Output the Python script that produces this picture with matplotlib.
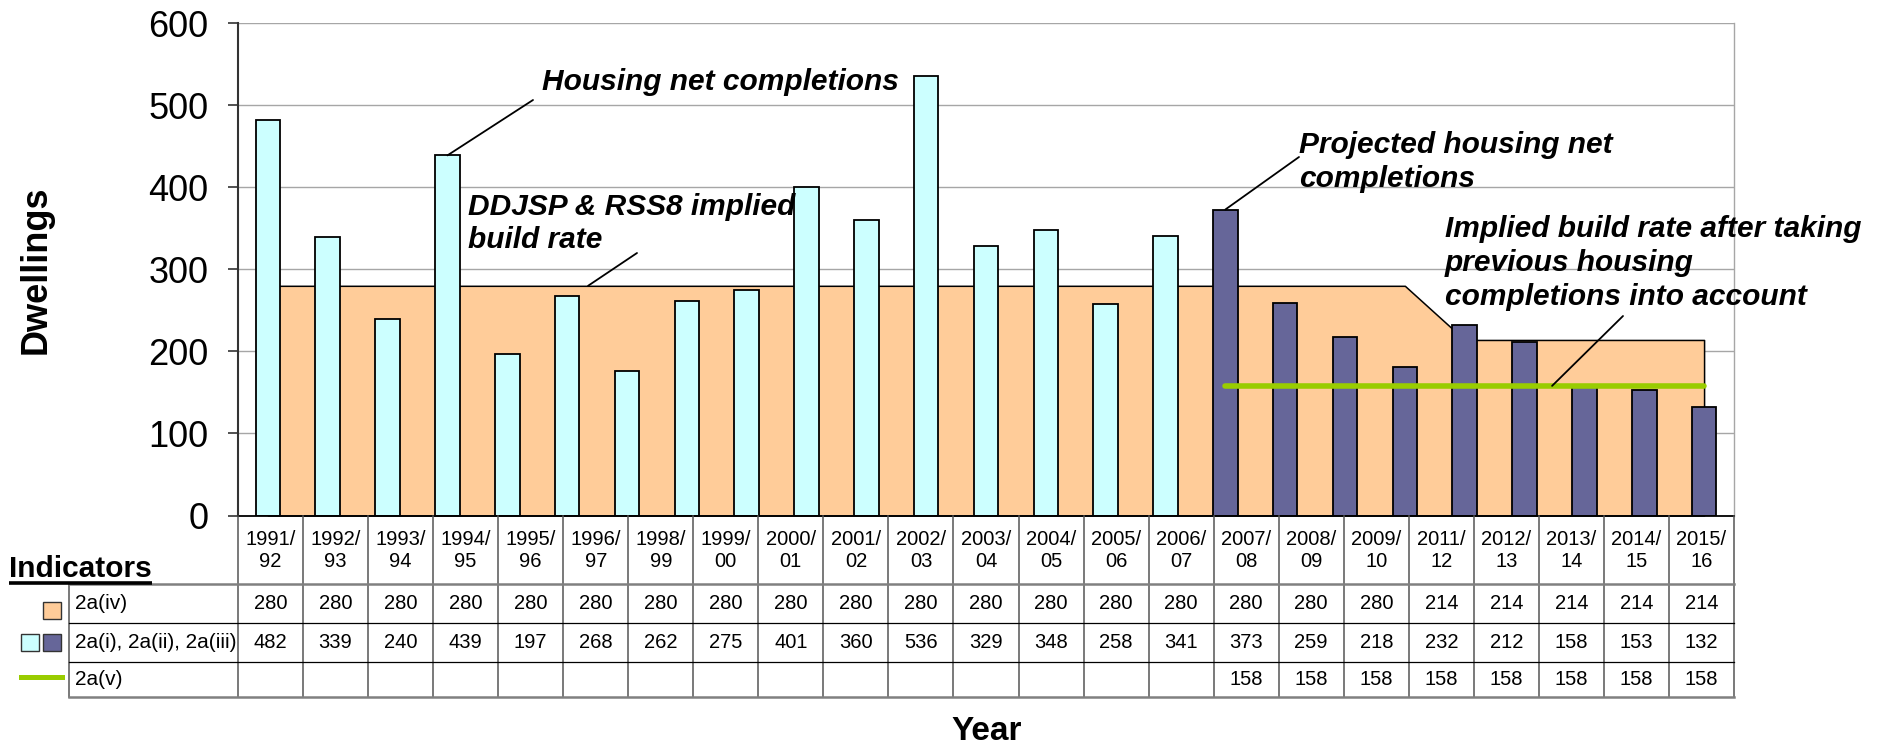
import numpy as np
import matplotlib.pyplot as plt
from matplotlib.patches import Rectangle, ConnectionPatch

plt.rcParams['font.family'] = ['Liberation Sans', 'DejaVu Sans']

# -----------------------------------------------------------------------------
# Data
# -----------------------------------------------------------------------------
years = ['1991/92', '1992/93', '1993/94', '1994/95', '1995/96', '1996/97',
         '1997/98', '1998/99', '1999/00', '2000/01', '2001/02', '2002/03',
         '2003/04', '2004/05', '2005/06', '2006/07', '2007/08', '2008/09',
         '2009/10', '2010/11', '2011/12', '2012/13', '2013/14', '2014/15',
         '2015/16']
completions = [482, 339, 240, 439, 197, 268, 176, 262, 275, 401, 360, 536,
               329, 348, 258, 341, 373, 259, 218, 181, 232, 212, 158, 153, 132]
build_rate = [280, 280, 280, 280, 280, 280, 280, 280, 280, 280, 280, 280,
              280, 280, 280, 280, 280, 280, 280, 280, 214, 214, 214, 214, 214]
residual_rate = [np.nan] * 16 + [158, 158, 158, 158, 158, 158, 158, 158, 158]
first_projected = '2007/08'

# the table under the chart skips two of the years
table_years = ['1991/92', '1992/93', '1993/94', '1994/95', '1995/96', '1996/97',
               '1998/99', '1999/00', '2000/01', '2001/02', '2002/03', '2003/04',
               '2004/05', '2005/06', '2006/07', '2007/08', '2008/09', '2009/10',
               '2011/12', '2012/13', '2013/14', '2014/15', '2015/16']
row_labels = ['2a(iv)', '2a(i), 2a(ii), 2a(iii)', '2a(v)']

C_HIST = '#CCFFFF'
C_PROJ = '#666699'
C_AREA = '#FFCC99'
C_LINE = '#99CC00'

W, H = 1885, 744
fig = plt.figure(figsize=(W / 100, H / 100), dpi=100)

# plot area in pixels (left, top, right, bottom)
PL, PT, PR, PB = 238, 23.3, 1734, 515.5
ax = fig.add_axes([PL / W, 1 - PB / H, (PR - PL) / W, (PB - PT) / H])

# overlay axes in pixel coordinates for table / annotations
tax = fig.add_axes([0, 0, 1, 1], zorder=5)
tax.set_xlim(0, W)
tax.set_ylim(H, 0)
tax.axis('off')
tax.patch.set_alpha(0)

x = np.arange(len(years))
ip = years.index(first_projected)

# -----------------------------------------------------------------------------
# Chart
# -----------------------------------------------------------------------------
ax.fill_between(x, build_rate, 0, facecolor=C_AREA, edgecolor='black',
                lw=1.1, zorder=1)
colors = [C_HIST if i < ip else C_PROJ for i in range(len(years))]
ax.bar(x, completions, width=0.41, color=colors, edgecolor='black',
       lw=1.3, zorder=2)
ax.plot(x, residual_rate, color=C_LINE, lw=4, solid_capstyle='round',
        zorder=3)

ax.set_xlim(-0.5, len(years) - 0.5)
ax.set_ylim(0, 600)
ax.set_yticks(range(0, 601, 100))
ax.set_xticks([])
ax.yaxis.grid(True, color='#A6A6A6', lw=1.0, zorder=0)
ax.set_axisbelow(True)
ax.tick_params(axis='y', direction='out', length=7.2, width=1.2,
               labelsize=26, pad=14, colors='#333333', labelcolor='black')
ax.spines['top'].set_visible(False)
ax.spines['right'].set_color('#A6A6A6')
ax.spines['right'].set_linewidth(1.0)
ax.spines['left'].set_color('#333333')
ax.spines['left'].set_linewidth(1.5)
ax.spines['bottom'].set_color('black')
ax.spines['bottom'].set_linewidth(1.3)

fig.text(36 / W, 1 - 270 / H, 'Dwellings', rotation=90, fontsize=26,
         fontweight='bold', ha='center', va='center')
tax.text(987, 740, 'Year', fontsize=24, fontweight='bold', ha='center',
         va='baseline')

# -----------------------------------------------------------------------------
# Annotations (one text per line, placed on its baseline)
# -----------------------------------------------------------------------------
afont = dict(fontsize=21.5, fontweight='bold', style='italic',
             ha='left', va='baseline')
notes = [(542, [90], ['Housing net completions']),
         (468, [215, 248], ['DDJSP & RSS8 implied', 'build rate']),
         (1299, [153, 187], ['Projected housing net', 'completions']),
         (1445, [237, 271, 305], ['Implied build rate after taking',
                                  'previous housing',
                                  'completions into account'])]
for tx, ys, lines in notes:
    for yy, line in zip(ys, lines):
        tax.text(tx, yy, line, **afont)

leaders = [((533, 100), (years.index('1994/95'), 439)),
           ((637, 253), (5.35, 280)),
           ((1299, 157), (ip, 373)),
           ((1623, 316), (21.46, 158))]
for (tx, ty), (dx, dy) in leaders:
    con = ConnectionPatch(xyA=(tx, ty), coordsA=tax.transData,
                          xyB=(dx, dy), coordsB=ax.transData,
                          color='black', lw=1.3, zorder=6)
    fig.add_artist(con)

# -----------------------------------------------------------------------------
# Data table
# -----------------------------------------------------------------------------
ncol = len(table_years)
cw = (PR - PL) / ncol
y_rows = [PB, 584, 623, 662, 697]
LBL_L = 69

for j in range(ncol + 1):
    xe = PL + j * cw
    tax.plot([xe, xe], [PB, y_rows[-1]], color='#555555', lw=1.1)
tax.plot([LBL_L, LBL_L], [y_rows[1], y_rows[-1]], color='#555555', lw=1.1)
tax.plot([LBL_L, PR], [y_rows[1]] * 2, color='#808080', lw=1.8)
tax.plot([LBL_L, PR], [y_rows[2]] * 2, color='black', lw=0.9)
tax.plot([LBL_L, PR], [y_rows[3]] * 2, color='black', lw=0.9)
tax.plot([LBL_L, PR], [y_rows[4]] * 2, color='#808080', lw=1.8)

for j, yr in enumerate(table_years):
    xc = PL + (j + 0.5) * cw
    k = years.index(yr)
    tax.text(xc, (y_rows[0] + y_rows[1]) / 2 + 1, yr.replace('/', '/\n'),
             fontsize=14.5, ha='center', va='center', linespacing=1.2)
    row_vals = [build_rate[k], completions[k], residual_rate[k]]
    for r, v in enumerate(row_vals):
        if np.isnan(v):
            continue
        tax.text(xc, (y_rows[r + 1] + y_rows[r + 2]) / 2, f'{v:.0f}',
                 fontsize=14.5, ha='center', va='center')

for r, lab in enumerate(row_labels):
    tax.text(75, (y_rows[r + 1] + y_rows[r + 2]) / 2, lab, fontsize=15,
             ha='left', va='center')

# legend keys
tax.add_patch(Rectangle((43, 602), 18, 17, facecolor=C_AREA,
                        edgecolor='#333333', lw=1.0))
tax.add_patch(Rectangle((21, 634), 18, 17, facecolor=C_HIST,
                        edgecolor='#333333', lw=1.0))
tax.add_patch(Rectangle((43, 634), 18, 17, facecolor=C_PROJ,
                        edgecolor='#333333', lw=1.0))
tax.plot([21, 62], [677, 677], color=C_LINE, lw=3.6)

ind = tax.text(9, 577, 'Indicators', fontsize=21.5, fontweight='bold',
               ha='left', va='baseline')
fig.canvas.draw()
bb = ind.get_window_extent().transformed(tax.transData.inverted())
tax.plot([bb.x0, bb.x1], [583, 583], color='black', lw=2.6,
         solid_capstyle='butt')

fig.savefig('out.png', dpi=100)
